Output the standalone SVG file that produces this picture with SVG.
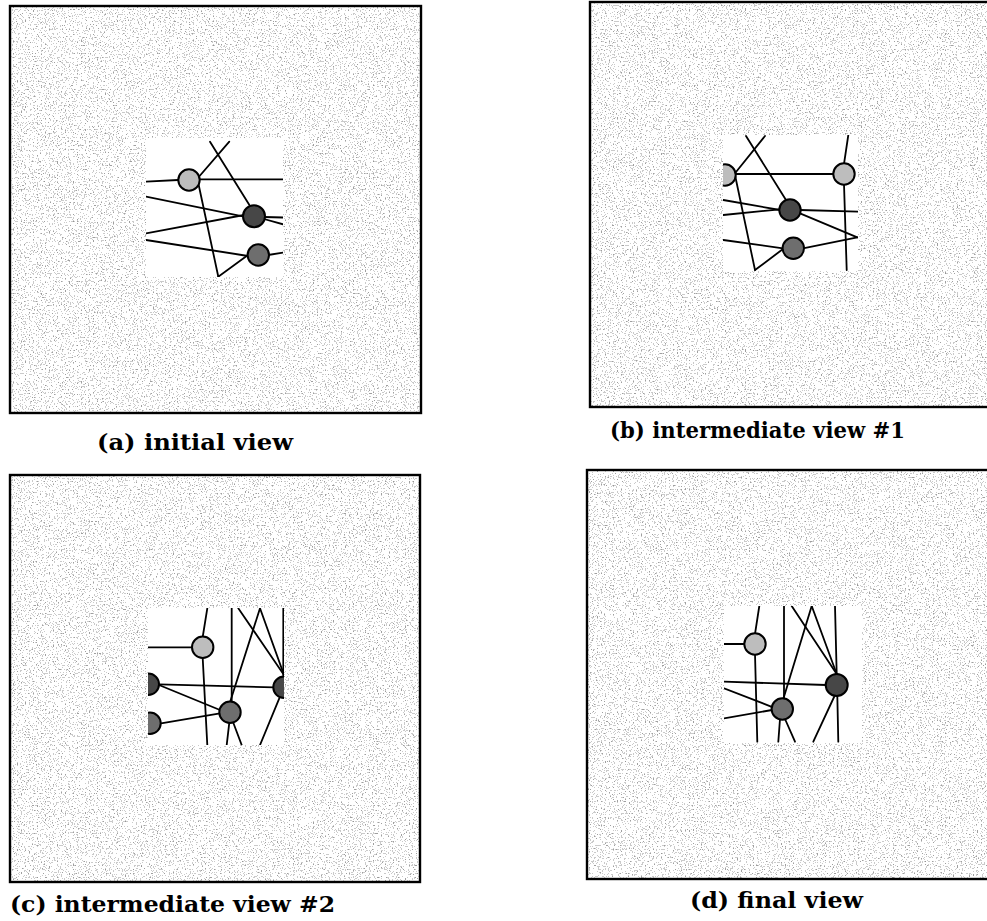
<svg xmlns="http://www.w3.org/2000/svg" width="987" height="921" viewBox="0 0 987 921">
<style>
.bg{fill:#ffffff}
.panel{filter:url(#stip)}
.frame{fill:none;stroke:#000;stroke-width:2.4}
.win{fill:#fff}
.e line{stroke:#000;stroke-width:1.8;stroke-linecap:round}
.n circle{stroke:#000;stroke-width:2}
.light{fill:#bdbdbd}
.dark{fill:#474747}
.mid{fill:#6e6e6e}
.cap{font-family:"DejaVu Serif","Liberation Serif",serif;font-weight:bold;font-size:22px;fill:#000}
</style>
<defs>
<filter id="stip" x="0" y="0" width="1" height="1" color-interpolation-filters="sRGB">
<feFlood flood-color="#ffffff" result="w"/>
<feTurbulence type="fractalNoise" baseFrequency="0.75" numOctaves="1" seed="7" result="t"/>
<feColorMatrix in="t" type="matrix" values="0 0 0 0 0.58 0 0 0 0 0.58 0 0 0 0 0.58 1 0 0 0 0" result="g"/>
<feComponentTransfer in="g" result="d"><feFuncA type="discrete" tableValues="0 0 0 0 0 0 0.5 0.9 1 1"/></feComponentTransfer>
<feMerge><feMergeNode in="w"/><feMergeNode in="d"/></feMerge>
</filter>
<clipPath id="ca"><rect x="146" y="138" width="137" height="139"/></clipPath>
<clipPath id="cb"><rect x="723" y="135" width="135" height="136"/></clipPath>
<clipPath id="cc"><rect x="148" y="608" width="136" height="137"/></clipPath>
<clipPath id="cd"><rect x="724" y="606" width="138" height="137"/></clipPath>
</defs>
<rect class="bg" x="0" y="0" width="987" height="921"/>

<g id="panel-a">
<rect class="panel" x="10" y="6" width="411" height="407"/>
<rect class="frame" x="10" y="6" width="411" height="407"/>
<rect class="win" x="146" y="138" width="137" height="139"/>
<g clip-path="url(#ca)">
<g id="a-edges" class="e">
<line x1="146" y1="181.7" x2="178" y2="180"/>
<line x1="200" y1="179.3" x2="283" y2="179.3"/>
<line x1="197" y1="179" x2="229.3" y2="141.7"/>
<line x1="210" y1="141.7" x2="250" y2="206"/>
<line x1="198" y1="181.7" x2="218.3" y2="276.7"/>
<line x1="218.3" y1="276.7" x2="248" y2="255"/>
<line x1="146" y1="196.7" x2="244" y2="216.7"/>
<line x1="146" y1="233.3" x2="244" y2="215"/>
<line x1="264" y1="217" x2="283" y2="217.5"/>
<line x1="264" y1="219" x2="283" y2="224.3"/>
<line x1="146" y1="240" x2="248" y2="256"/>
<line x1="268" y1="255" x2="283" y2="252.7"/>
</g>
<g id="a-n1" class="n"><circle class="light" cx="189" cy="180" r="10.7"/></g>
<g id="a-n2" class="n"><circle class="dark" cx="254" cy="216.3" r="11"/></g>
<g id="a-n3" class="n"><circle class="mid" cx="258.3" cy="255" r="10.7"/></g>
</g>
</g>

<g id="panel-b">
<rect class="panel" x="590" y="2" width="410" height="405"/>
<rect class="frame" x="590" y="2" width="410" height="405"/>
<rect class="win" x="723" y="135" width="135" height="136"/>
<g clip-path="url(#cb)">
<g id="b-edges" class="e">
<line x1="735" y1="174" x2="834" y2="174"/>
<line x1="735" y1="173.3" x2="765" y2="136"/>
<line x1="746" y1="136" x2="786" y2="200"/>
<line x1="735" y1="175" x2="755" y2="270"/>
<line x1="755" y1="270" x2="784" y2="248.3"/>
<line x1="723.3" y1="200" x2="780" y2="210"/>
<line x1="723.3" y1="215" x2="780" y2="209.3"/>
<line x1="800" y1="210" x2="858" y2="211.7"/>
<line x1="800" y1="213.3" x2="857.3" y2="237.3"/>
<line x1="857.3" y1="237.3" x2="803" y2="248.3"/>
<line x1="723.3" y1="240" x2="783" y2="248.3"/>
<line x1="844" y1="164" x2="848.3" y2="135"/>
<line x1="844" y1="184" x2="846.7" y2="270"/>
</g>
<g id="b-n1" class="n"><circle class="light" cx="725" cy="175" r="10.7"/></g>
<g id="b-n2" class="n"><circle class="light" cx="844" cy="174" r="10.7"/></g>
<g id="b-n3" class="n"><circle class="dark" cx="790" cy="210" r="10.7"/></g>
<g id="b-n4" class="n"><circle class="mid" cx="793.3" cy="248.3" r="10.7"/></g>
</g>
</g>

<g id="panel-c">
<rect class="panel" x="10" y="475" width="410" height="407"/>
<rect class="frame" x="10" y="475" width="410" height="407"/>
<rect class="win" x="148" y="608" width="136" height="137"/>
<g clip-path="url(#cc)">
<g id="c-edges" class="e">
<line x1="148.3" y1="647.3" x2="192" y2="647.3"/>
<line x1="207.3" y1="608.3" x2="202.7" y2="637"/>
<line x1="202.7" y1="658" x2="207.3" y2="745"/>
<line x1="159" y1="684.3" x2="274" y2="687.3"/>
<line x1="159" y1="685" x2="220" y2="710"/>
<line x1="161" y1="723.3" x2="220" y2="713.3"/>
<line x1="231.7" y1="608.3" x2="231.7" y2="702"/>
<line x1="238.3" y1="608.3" x2="284" y2="675"/>
<line x1="260" y1="608.3" x2="230" y2="702.3"/>
<line x1="260" y1="608.3" x2="284" y2="675"/>
<line x1="283.3" y1="608.3" x2="283.3" y2="677"/>
<line x1="280" y1="696.7" x2="260" y2="745"/>
<line x1="229.3" y1="722.7" x2="226.7" y2="745"/>
<line x1="233.3" y1="722.7" x2="241.7" y2="745"/>
</g>
<g id="c-n1" class="n"><circle class="light" cx="202.7" cy="647.3" r="10.7"/></g>
<g id="c-n2" class="n"><circle class="dark" cx="148.3" cy="684.3" r="10.7"/></g>
<g id="c-n3" class="n"><circle class="mid" cx="150" cy="723.3" r="10.7"/></g>
<g id="c-n4" class="n"><circle class="dark" cx="284" cy="687.3" r="10.7"/></g>
<g id="c-n5" class="n"><circle class="mid" cx="230" cy="712.3" r="10.7"/></g>
</g>
</g>

<g id="panel-d">
<rect class="panel" x="587" y="470" width="410" height="409"/>
<rect class="frame" x="587" y="470" width="410" height="409"/>
<rect class="win" x="724" y="606" width="138" height="137"/>
<g clip-path="url(#cd)">
<g id="d-edges" class="e">
<line x1="724" y1="644" x2="745" y2="644"/>
<line x1="755" y1="634" x2="759.3" y2="606"/>
<line x1="755" y1="654" x2="757.3" y2="741.7"/>
<line x1="784" y1="606" x2="784" y2="699"/>
<line x1="791.7" y1="606" x2="836.7" y2="674"/>
<line x1="811.7" y1="606" x2="783.3" y2="699"/>
<line x1="811.7" y1="606" x2="836.7" y2="674"/>
<line x1="835" y1="606" x2="836.7" y2="674"/>
<line x1="724" y1="681.7" x2="826" y2="685"/>
<line x1="724" y1="688.3" x2="773" y2="707.3"/>
<line x1="724" y1="718.3" x2="772" y2="710"/>
<line x1="835" y1="695" x2="813.3" y2="741.7"/>
<line x1="837.3" y1="695" x2="838.3" y2="741.7"/>
<line x1="780" y1="719" x2="778.3" y2="741.7"/>
<line x1="785" y1="719" x2="795" y2="741.7"/>
</g>
<g id="d-n1" class="n"><circle class="light" cx="755" cy="644" r="10.7"/></g>
<g id="d-n2" class="n"><circle class="dark" cx="836.7" cy="685" r="11"/></g>
<g id="d-n3" class="n"><circle class="mid" cx="782.3" cy="709" r="10.7"/></g>
</g>
</g>

<g id="captions">
<text class="cap" x="97" y="450" textLength="196" lengthAdjust="spacingAndGlyphs">(a) initial view</text>
<text class="cap" x="610" y="438" textLength="295" lengthAdjust="spacingAndGlyphs">(b) intermediate view #1</text>
<text class="cap" x="10" y="912" textLength="325" lengthAdjust="spacingAndGlyphs">(c) intermediate view #2</text>
<text class="cap" x="690" y="908" textLength="173" lengthAdjust="spacingAndGlyphs">(d) final view</text>
</g>
</svg>
